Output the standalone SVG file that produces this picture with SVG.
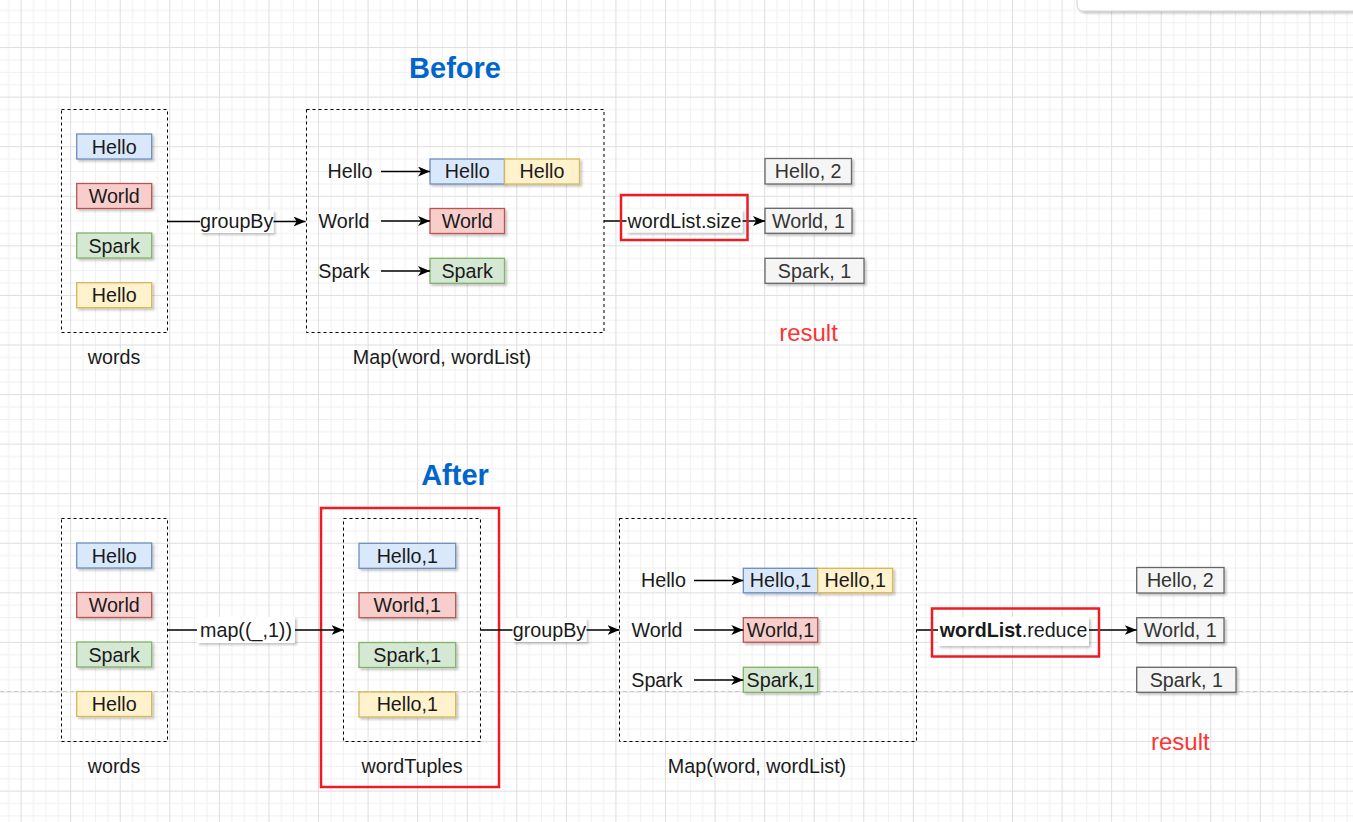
<svg xmlns="http://www.w3.org/2000/svg" width="1353" height="822" viewBox="0 0 1353 822">
<defs>
<style>
text{font-family:"Liberation Sans",Arial,sans-serif;font-size:19.7px;fill:#1a1a1a}
.c{text-anchor:middle}
.dash{fill:none;stroke:#000;stroke-width:1;stroke-dasharray:3 3}
.blue{fill:#dae8fc;stroke:#6c8ebf;stroke-width:1.3}
.red{fill:#f8cecc;stroke:#b85450;stroke-width:1.3}
.green{fill:#d5e8d4;stroke:#82b366;stroke-width:1.3}
.yellow{fill:#fff2cc;stroke:#d6b656;stroke-width:1.3}
.res{fill:#f5f5f5;stroke:#666;stroke-width:1.3}
.rest{fill:#333}
.lbl{fill:#fff}
.hl{fill:none;stroke:#ED1C24;stroke-width:2.5}
.title{font-size:29px;font-weight:bold;fill:#0066CC}
.resultt{font-size:24px;fill:#FF3333}
.edge{fill:none;stroke:#000;stroke-width:1.3}
.sh{filter:url(#shadow)}
</style>
<filter id="shadow" x="-20%" y="-20%" width="140%" height="160%">
<feDropShadow dx="2" dy="2" stdDeviation="1.2" flood-color="#000" flood-opacity="0.22"/>
</filter>
<pattern id="grid" x="20.6" y="-2.5" width="49.57" height="49.57" patternUnits="userSpaceOnUse">
<g stroke="#f0f0f0" stroke-width="1">
<line x1="12.89" y1="0" x2="12.89" y2="49.57"/>
<line x1="25.28" y1="0" x2="25.28" y2="49.57"/>
<line x1="37.68" y1="0" x2="37.68" y2="49.57"/>
<line x1="0" y1="12.89" x2="49.57" y2="12.89"/>
<line x1="0" y1="25.28" x2="49.57" y2="25.28"/>
<line x1="0" y1="37.68" x2="49.57" y2="37.68"/>
</g>
<g stroke="#dedede" stroke-width="1">
<line x1="0.5" y1="0" x2="0.5" y2="49.57"/>
<line x1="0" y1="0.5" x2="49.57" y2="0.5"/>
</g>
</pattern>
<marker id="arr" markerUnits="userSpaceOnUse" markerWidth="13" markerHeight="11" refX="12" refY="5" orient="auto">
<path d="M0,0 L12,5 L0,10 L3.2,5 Z" fill="#000"/>
</marker>
</defs>

<rect width="1353" height="822" fill="#fff"/>
<rect width="1353" height="822" fill="url(#grid)"/>
<line x1="0" y1="691.5" x2="1353" y2="691.5" stroke="#c8c8c8" stroke-width="1" stroke-dasharray="4 3"/>
<rect x="1077" y="-12" width="290" height="23" rx="6" fill="#fff" stroke="#d0d0d0" class="sh"/>

<g id="title-before"><text class="title c" x="455" y="78">Before</text></g>
<g id="title-after"><text class="title c" x="455" y="485">After</text></g>

<!-- Top: words -->
<g id="words-top">
<rect class="dash" x="61.5" y="109.5" width="106" height="223"/>
<rect class="blue sh" x="76.7" y="134" width="75" height="25"/><text class="c" x="114.2" y="153.5">Hello</text>
<rect class="red sh" x="76.7" y="183.5" width="75" height="25"/><text class="c" x="114.2" y="203">World</text>
<rect class="green sh" x="76.7" y="233" width="75" height="25"/><text class="c" x="114.2" y="252.5">Spark</text>
<rect class="yellow sh" x="76.7" y="282.7" width="75" height="25"/><text class="c" x="114.2" y="302">Hello</text>
<text class="c" x="114" y="364">words</text>
</g>

<!-- Top: map -->
<g id="map-top">
<rect class="dash" x="306.5" y="109.5" width="297.5" height="223"/>
<text class="c" x="350" y="178">Hello</text>
<text class="c" x="344" y="228">World</text>
<text class="c" x="344" y="278">Spark</text>
<rect class="blue sh" x="430" y="159" width="74.5" height="25"/><text class="c" x="467.2" y="178">Hello</text>
<rect class="yellow sh" x="504.5" y="159" width="75" height="25"/><text class="c" x="542" y="178">Hello</text>
<rect class="red sh" x="430" y="208.5" width="74.5" height="25"/><text class="c" x="467.2" y="228">World</text>
<rect class="green sh" x="430" y="258.3" width="74.5" height="25"/><text class="c" x="467.2" y="278">Spark</text>
<text class="c" x="442" y="364">Map(word, wordList)</text>
</g>

<!-- Top: result -->
<g id="result-top">
<rect class="res sh" x="765" y="158.5" width="86.5" height="25.5"/><text class="c rest" x="808.2" y="178">Hello, 2</text>
<rect class="res sh" x="765" y="208.3" width="87" height="25"/><text class="c rest" x="808.5" y="228">World, 1</text>
<rect class="res sh" x="765" y="258.3" width="99" height="25"/><text class="c rest" x="814.5" y="278">Spark, 1</text>
<text class="c resultt" x="808.5" y="341">result</text>
</g>

<!-- Bottom: words -->
<g id="words-bottom">
<rect class="dash" x="61.5" y="518.5" width="106" height="223"/>
<rect class="blue sh" x="76.7" y="543" width="75" height="25"/><text class="c" x="114.2" y="562.5">Hello</text>
<rect class="red sh" x="76.7" y="592.5" width="75" height="25"/><text class="c" x="114.2" y="612">World</text>
<rect class="green sh" x="76.7" y="642" width="75" height="25"/><text class="c" x="114.2" y="661.5">Spark</text>
<rect class="yellow sh" x="76.7" y="691.5" width="75" height="25"/><text class="c" x="114.2" y="711">Hello</text>
<text class="c" x="114" y="773">words</text>
</g>

<!-- Bottom: wordTuples -->
<g id="wordtuples">
<rect class="dash" x="343.5" y="518.5" width="137" height="223"/>
<rect class="blue sh" x="359" y="543.3" width="96.7" height="25"/><text class="c" x="407.3" y="562.5">Hello,1</text>
<rect class="red sh" x="359" y="592.7" width="96.7" height="25"/><text class="c" x="407.3" y="612">World,1</text>
<rect class="green sh" x="359" y="642.5" width="96.7" height="25"/><text class="c" x="407.3" y="661.5">Spark,1</text>
<rect class="yellow sh" x="359" y="692" width="96.7" height="25"/><text class="c" x="407.3" y="711">Hello,1</text>
<text class="c" x="412" y="773">wordTuples</text>
<rect class="hl" x="321" y="508" width="178" height="279"/>
</g>

<!-- Bottom: map -->
<g id="map-bottom">
<rect class="dash" x="619.5" y="518.5" width="297" height="223"/>
<text class="c" x="663.5" y="587">Hello</text>
<text class="c" x="657" y="637">World</text>
<text class="c" x="657" y="687">Spark</text>
<rect class="blue sh" x="743.3" y="568.3" width="74.4" height="24.5"/><text class="c" x="780.5" y="587">Hello,1</text>
<rect class="yellow sh" x="817.7" y="568.3" width="75" height="24.5"/><text class="c" x="855.2" y="587">Hello,1</text>
<rect class="red sh" x="743.3" y="617.7" width="74.4" height="24.5"/><text class="c" x="780.5" y="637">World,1</text>
<rect class="green sh" x="743.3" y="667.3" width="74.4" height="25"/><text class="c" x="780.5" y="687">Spark,1</text>
<text class="c" x="757" y="773">Map(word, wordList)</text>
</g>

<!-- Bottom: result -->
<g id="result-bottom">
<rect class="res sh" x="1136.7" y="567.5" width="87.3" height="25.5"/><text class="c rest" x="1180.3" y="587">Hello, 2</text>
<rect class="res sh" x="1136.7" y="617.7" width="87.3" height="25"/><text class="c rest" x="1180.3" y="637">World, 1</text>
<rect class="res sh" x="1136.7" y="667.3" width="99.3" height="25"/><text class="c rest" x="1186.3" y="687">Spark, 1</text>
<text class="c resultt" x="1180.3" y="750">result</text>
</g>

<!-- Connectors -->
<g id="connectors">
<line class="edge" x1="167.5" y1="221.5" x2="305.5" y2="221.5" marker-end="url(#arr)"/>
<line class="edge" x1="381" y1="171.5" x2="430" y2="171.5" marker-end="url(#arr)"/>
<line class="edge" x1="381" y1="221" x2="430" y2="221" marker-end="url(#arr)"/>
<line class="edge" x1="381" y1="271" x2="430" y2="271" marker-end="url(#arr)"/>
<line class="edge" x1="604" y1="221" x2="765" y2="221" marker-end="url(#arr)"/>

<line class="edge" x1="167.5" y1="630" x2="343.5" y2="630" marker-end="url(#arr)"/>
<line class="edge" x1="480.5" y1="630" x2="619.5" y2="630" marker-end="url(#arr)"/>
<line class="edge" x1="694" y1="580.5" x2="743.3" y2="580.5" marker-end="url(#arr)"/>
<line class="edge" x1="694" y1="630" x2="743.3" y2="630" marker-end="url(#arr)"/>
<line class="edge" x1="694" y1="680" x2="743.3" y2="680" marker-end="url(#arr)"/>
<line class="edge" x1="916.5" y1="630" x2="1136.7" y2="630" marker-end="url(#arr)"/>

<rect class="lbl sh" x="200" y="210" width="73.5" height="23"/>
<text class="c" x="236.7" y="228">groupBy</text>

<rect class="lbl sh" x="626.5" y="209.5" width="116" height="23"/>
<text class="c" x="684.5" y="228">wordList.size</text>
<rect class="hl" x="621" y="195" width="126.5" height="45"/>

<rect class="lbl sh" x="197" y="617" width="98" height="26"/>
<text class="c" x="246" y="637">map((_,1))</text>

<rect class="lbl sh" x="512.5" y="618" width="74" height="24"/>
<text class="c" x="549.5" y="637">groupBy</text>

<rect class="lbl sh" x="938" y="617" width="151" height="29"/>
<text class="c" x="1013.5" y="637"><tspan font-weight="bold">wordList</tspan>.reduce</text>
<rect class="hl" x="932" y="608.5" width="167" height="48"/>
</g>
</svg>
